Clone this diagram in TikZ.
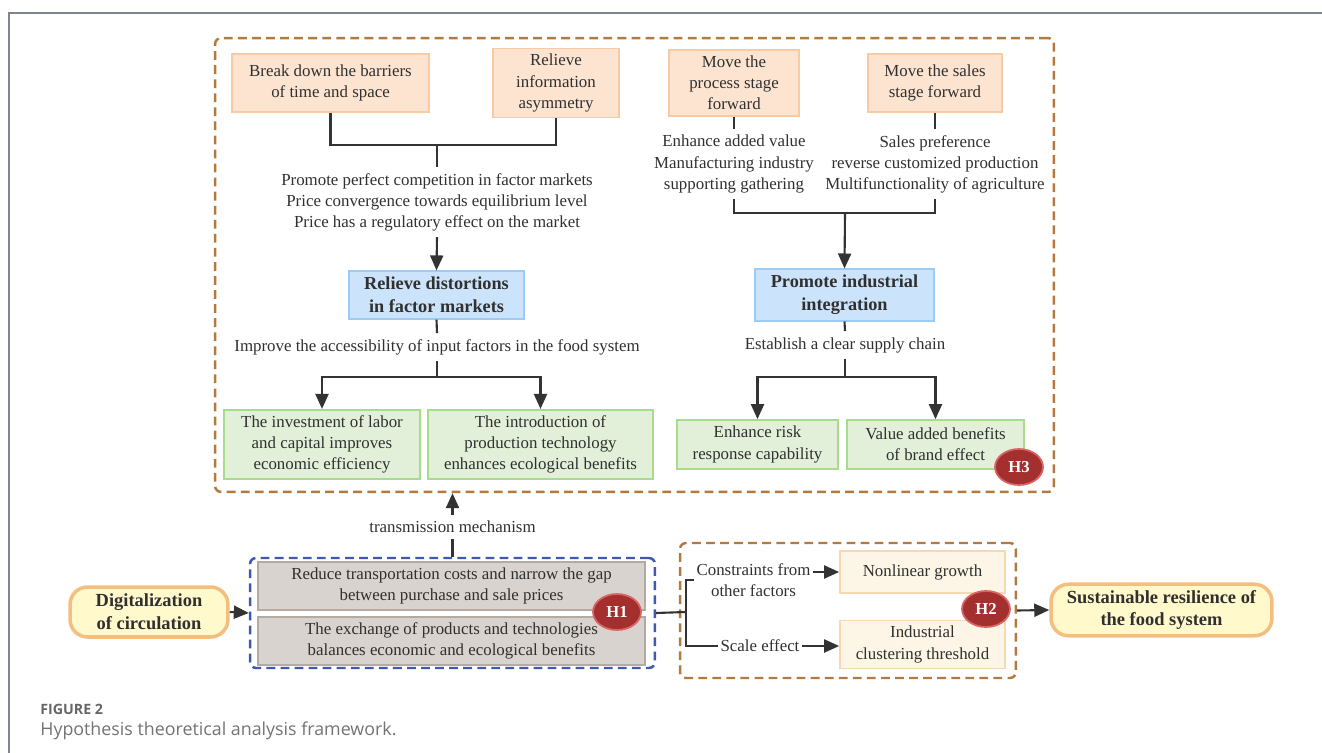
\documentclass[tikz,border=0pt]{standalone}
\usepackage{fontspec}
\setmainfont{Liberation Serif}
\newfontfamily\capfont{Open Sans}
\usetikzlibrary{positioning,arrows.meta,shapes.geometric}

\definecolor{txt}{HTML}{303030}
\definecolor{lnk}{HTML}{333333}
\definecolor{ofill}{HTML}{FCE4D0}
\definecolor{oline}{HTML}{F8CBA4}
\definecolor{bfill}{HTML}{CCE4FB}
\definecolor{bline}{HTML}{9DCBF5}
\definecolor{gfill}{HTML}{E2F0D9}
\definecolor{gline}{HTML}{A8DC8C}
\definecolor{rfill}{HTML}{D8D3CF}
\definecolor{rline}{HTML}{B3AAA4}
\definecolor{nfill}{HTML}{FDF6E7}
\definecolor{nline}{HTML}{F8D8B3}
\definecolor{yfill}{HTML}{FFF9CC}
\definecolor{yline}{HTML}{F3BE7E}
\definecolor{hfill}{HTML}{A3302E}
\definecolor{hline}{HTML}{D96464}
\definecolor{brn}{HTML}{B27A3E}
\definecolor{blu}{HTML}{3F58B0}
\definecolor{frm}{HTML}{7E858D}

\begin{document}
\begin{tikzpicture}[x=0.02cm,y=-0.02cm,
    every node/.style={font=\fontsize{9.6}{12}\selectfont, text=txt},
    obox/.style={draw=oline, fill=ofill, line width=1pt, align=center},
    bbox/.style={draw=bline, fill=bfill, line width=1pt, align=center,
        font=\bfseries\fontsize{10.4}{13}\selectfont},
    gbox/.style={draw=gline, fill=gfill, line width=1pt, align=center},
    rbox/.style={draw=rline, fill=rfill, line width=1pt, align=center},
    nbox/.style={draw=nline, fill=nfill, line width=1pt, align=center},
    note/.style={align=center},
    dbox/.style={dash pattern=on 5pt off 3pt, line width=1.4pt,
        rounded corners=0.12cm, inner sep=0pt},
    endbox/.style={draw=yline, fill=yfill, line width=2pt, rounded corners=0.35cm,
        align=center, font=\bfseries\fontsize{10.5}{13}\selectfont},
    hbadge/.style={ellipse, draw=hline, fill=hfill, line width=1pt, text=white,
        font=\bfseries\fontsize{9.5}{10}\selectfont, minimum width=0.96cm,
        minimum height=0.72cm, inner sep=0pt},
    conn/.style={draw=lnk, line width=1.2pt},
    arr/.style={conn, -{Triangle[length=3mm,width=2.6mm]}}]
    \useasboundingbox (0,0) rectangle (1322,753);
    \draw [frm, line width=1.1pt] (9,753) -- (9,13) -- (1322,13);

    % dashed groups
    \node [dbox, draw=brn, minimum width=16.78cm, minimum height=9.08cm] (top) at (634.5,265) {};
    \node [dbox, draw=blu, minimum width=8.1cm, minimum height=2.2cm] (chan) at (452.5,613) {};
    \node [dbox, draw=brn, minimum width=6.72cm, minimum height=2.7cm] (thr) at (848,610.5) {};

    % upper left branch
    \node [obox, minimum width=3.94cm, minimum height=1.16cm] (barrier) at (330.5,83) {Break down the barriers\\of time and space};
    \node [obox, minimum width=2.52cm, minimum height=1.16cm] (info) at (556,83) {Relieve\\information\\asymmetry};
    \node [note] (promo) at (437,202) {Promote perfect competition in factor markets\\Price convergence towards equilibrium level\\Price has a regulatory effect on the market};
    \node [bbox, minimum width=3.5cm, minimum height=0.88cm] (distort) at (436.5,295) {Relieve distortions\\in factor markets};
    \node [note] (access) at (437,347) {Improve the accessibility of input factors in the food system};
    \node [gbox, minimum width=3.92cm, minimum height=1.34cm] (labor) at (322,444.5) {The investment of labor\\and capital improves\\economic efficiency};
    \node [gbox, minimum width=4.5cm, minimum height=1.34cm] (tech) at (540.5,444.5) {The introduction of\\production technology\\enhances ecological benefits};
    \coordinate (j1) at (437,145);
    \coordinate (j2) at (437,377);
    \draw [conn] (barrier.south) |- (j1) -| (info.south);
    \draw [conn] (j1) -- (promo.north);
    \draw [arr] (promo.south) -- (distort.north);
    \draw [conn] (distort.south) -- (access.north);
    \draw [conn] (access.south) -- (j2);
    \draw [arr] (j2) -| (labor.north);
    \draw [arr] (j2) -| (tech.north);

    % upper right branch
    \node [obox, minimum width=2.6cm, minimum height=1.16cm] (process) at (734,83) {Move the\\process stage\\forward};
    \node [obox, minimum width=2.68cm, minimum height=1.16cm] (salesst) at (935,83) {Move the sales\\stage forward};
    \node [note] (added) at (734,164) {Enhance added value\\Manufacturing industry\\supporting gathering};
    \node [note] (salestxt) at (935,164) {Sales preference\\reverse customized production\\Multifunctionality of agriculture};
    \node [bbox, minimum width=3.58cm, minimum height=0.88cm] (integr) at (844.5,295) {Promote industrial\\integration};
    \node [note] (chain) at (845,345) {Establish a clear supply chain};
    \node [gbox, minimum width=3.22cm, minimum height=0.98cm] (risk) at (757.5,444.5) {Enhance risk\\response capability};
    \node [gbox, minimum width=3.54cm, minimum height=0.98cm] (brand) at (935.5,444.5) {Value added benefits\\of brand effect};
    \coordinate (j3) at (845,213);
    \coordinate (j4) at (845,377);
    \draw [conn] (process.south) -- (added.north);
    \draw [conn] (salesst.south) -- (salestxt.north);
    \draw [conn] (added.south) |- (j3) -| (salestxt.south);
    \draw [arr] (j3) -- (integr.north);
    \draw [conn] (integr.south) -- (chain.north);
    \draw [conn] (chain.south) -- (j4);
    \draw [arr] (j4) -| (risk.north);
    \draw [arr] (j4) -| (brand.north);

    % lower row
    \node [endbox, minimum width=3.16cm, minimum height=1cm] (digit) at (149,612) {Digitalization\\of circulation};
    \node [rbox, minimum width=7.74cm, minimum height=0.84cm] (reduce) at (451.5,586) {Reduce transportation costs and narrow the gap\\between purchase and sale prices};
    \node [rbox, minimum width=7.74cm, minimum height=0.84cm] (exch) at (451.5,641) {The exchange of products and technologies\\balances economic and ecological benefits};
    \node [note] (trans) at (452.5,527) {transmission mechanism};
    \node [note, inner xsep=1pt] (cons) at (753.5,580) {Constraints from\\other factors};
    \node [note, inner xsep=1pt] (scale) at (760,646) {Scale effect};
    \node [nbox, minimum width=3.3cm, minimum height=0.84cm] (nonlin) at (922.5,572) {Nonlinear growth};
    \node [nbox, minimum width=3.3cm, minimum height=0.94cm] (clust) at (922.5,644.5) {Industrial\\clustering threshold};
    \node [endbox, minimum width=4.42cm, minimum height=1cm] (sust) at (1161.5,610) {Sustainable resilience of\\the food system};
    \coordinate (brk) at (686,612);
    \draw [arr] (digit.east) -- (chan.west);
    \draw [conn] (chan.north) -- (trans.south);
    \draw [arr] (trans.north) -- (trans.north |- top.south);
    \draw [conn] (chan.east) -- (brk);
    \draw [conn] (cons.west) -| (brk) |- (scale.west);
    \draw [arr] (cons.east |- nonlin.west) -- (nonlin.west);
    \draw [arr] (scale.east) -- (scale.east -| clust.west);
    \draw [arr] (thr.east) -- (sust.west);

    % hypotheses
    \node [hbadge] (h1) at (617,612) {H1};
    \node [hbadge] (h2) at (986,609) {H2};
    \node [hbadge] (h3) at (1019,467) {H3};

    % caption
    \node [anchor=west, inner sep=0pt, font=\capfont\bfseries\fontsize{8.1}{10}\selectfont, text=black!60] (fig) at (40,709) {FIGURE 2};
    \node [anchor=west, inner sep=0pt, font=\capfont\fontsize{10.15}{12}\selectfont, text=black!55] (cap) at (40,731) {Hypothesis theoretical analysis framework.};
\end{tikzpicture}
\end{document}
